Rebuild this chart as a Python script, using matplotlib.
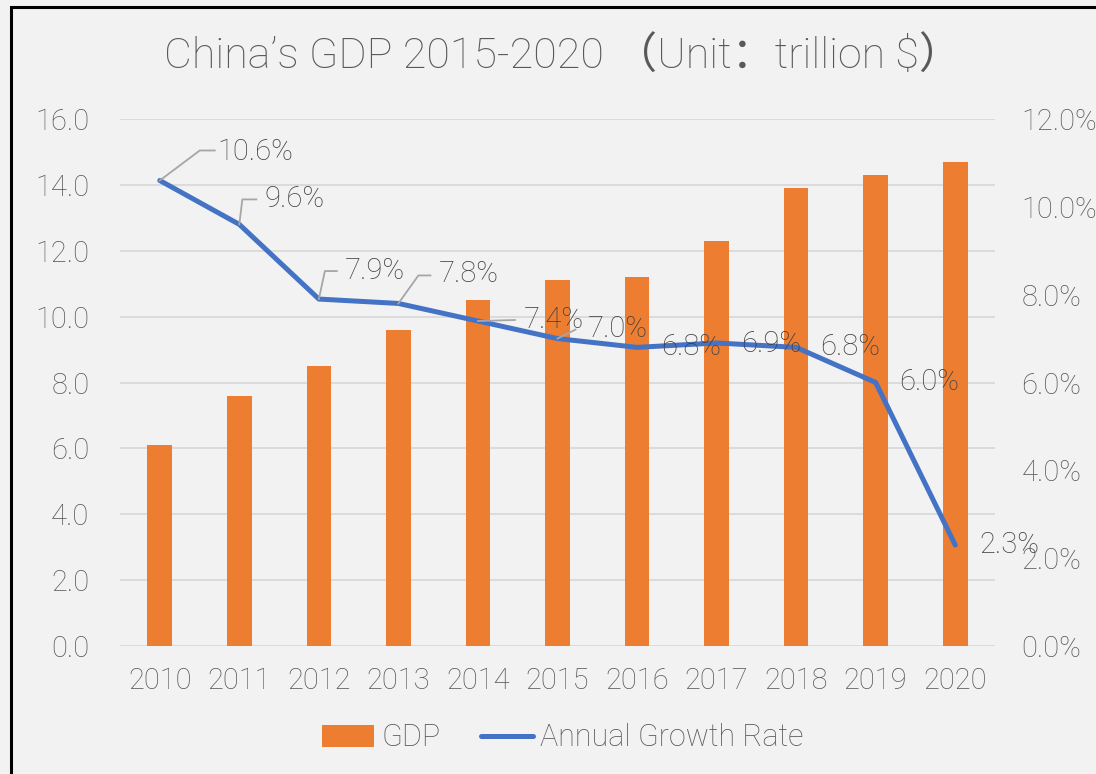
import matplotlib
matplotlib.use("Agg")
import matplotlib.pyplot as plt
import matplotlib.transforms as mtransforms
from matplotlib.patches import Rectangle, Patch
from matplotlib.lines import Line2D

years = ["2010", "2011", "2012", "2013", "2014", "2015", "2016", "2017", "2018", "2019", "2020"]
gdp = [6.1, 7.6, 8.5, 9.6, 10.5, 11.1, 11.2, 12.3, 13.9, 14.3, 14.7]
growth = [10.6, 9.6, 7.9, 7.8, 7.4, 7.0, 6.8, 6.9, 6.8, 6.0, 2.3]
left_ticks = [0, 2, 4, 6, 8, 10, 12, 14, 16]
right_ticks = [0, 2, 4, 6, 8, 10, 12]
title = "China’s GDP 2015-2020 （Unit：trillion $）"

# label placement (pixel offsets from point, up positive) and leader polylines
label_off = [(58, 28), (25, 25), (26, 28), (40, 29), (46, 1), (30, 10), (24, 0), (25, -1), (24, 0), (23, 0), (24, 0)]
leaders = [
    [(0, 0), (40, 30), (55, 30)],
    [(0, 0), (3, 25), (17, 25)],
    [(0, 0), (6, 28), (18, 28)],
    [(0, 0), (20, 28), (32, 28)],
    [(0, 0), (37, 1)],
    [(0, 0), (18, 9)],
    None, None, None, None, None,
]

FONT = ["Roboto", "Noto Sans CJK SC", "DejaVu Sans"]
plt.rcParams["font.family"] = FONT
plt.rcParams["font.weight"] = "light"

W, H = 1096, 774
DPI = 100
FS = 21
fig = plt.figure(figsize=(W / DPI, H / DPI), dpi=DPI, facecolor="#F2F2F2")

x0, x1, ytop, ybot = 120, 995, 119, 646
ax = fig.add_axes([x0 / W, 1 - ybot / H, (x1 - x0) / W, (ybot - ytop) / H])
ax.set_facecolor("#F2F2F2")
ax2 = ax.twinx()

xs = list(range(len(years)))
ax.bar(xs, gdp, width=0.31, color="#ED7D31", zorder=2)
ax.set_ylim(0, 16)
ax.set_xlim(-0.5, len(years) - 0.5)
ax.set_yticks(left_ticks)
ax.set_yticklabels([f"{v:.1f}" for v in left_ticks])
ax.set_xticks(xs)
ax.set_xticklabels(years)
ax.yaxis.grid(True, color="#D9D9D9", lw=1.3, zorder=0)
ax.set_axisbelow(True)
for s in ax.spines.values():
    s.set_visible(False)
for s in ax2.spines.values():
    s.set_visible(False)
ax.tick_params(axis="both", length=0, labelsize=FS, labelcolor="#595959")
ax.tick_params(axis="y", pad=22)
ax.tick_params(axis="x", pad=15)

ax2.plot(xs, growth, color="#4472C4", lw=3.6, solid_capstyle="round", solid_joinstyle="round", zorder=3)
ax2.set_ylim(0, 12)
ax2.set_yticks(right_ticks)
ax2.set_yticklabels([f"{v:.1f}%" for v in right_ticks])
ax2.tick_params(axis="y", length=0, labelsize=FS, labelcolor="#595959", pad=19)

for i, v in enumerate(growth):
    dx, dy = label_off[i]
    ax2.annotate(f"{v:.1f}%", xy=(i, v), xytext=(dx, dy), textcoords="offset pixels",
                 ha="left", va="center", fontsize=FS, color="#404040", zorder=5)
    if leaders[i]:
        pts = []
        for (px, py) in leaders[i]:
            off = mtransforms.offset_copy(ax2.transData, fig=fig, x=px, y=py, units="dots")
            pts.append(off.transform((i, v)))
        fig.add_artist(Line2D([p[0] for p in pts], [p[1] for p in pts], transform=None,
                              color="#A6A6A6", lw=1.3, zorder=4))

fig.text(563 / W, 1 - 57 / H, title, ha="center", va="center", fontsize=31, color="#595959",
         family=FONT)

handles = [Patch(facecolor="#ED7D31", edgecolor="none"),
           Line2D([0], [0], color="#4472C4", lw=3.6, solid_capstyle="round")]
fig.legend(handles, ["GDP", "Annual Growth Rate"], loc="center", bbox_to_anchor=(563 / W, 1 - 738 / H),
           ncol=2, frameon=False, fontsize=22, labelcolor="#595959", handlelength=1.7,
           handletextpad=0.25, columnspacing=1.3)

fig.add_artist(Rectangle((11 / W, -0.1), 2, (H - 7) / H + 0.1, transform=fig.transFigure,
                         fill=False, ec="black", lw=2.2))

fig.savefig("out.png", dpi=DPI, facecolor=fig.get_facecolor())
